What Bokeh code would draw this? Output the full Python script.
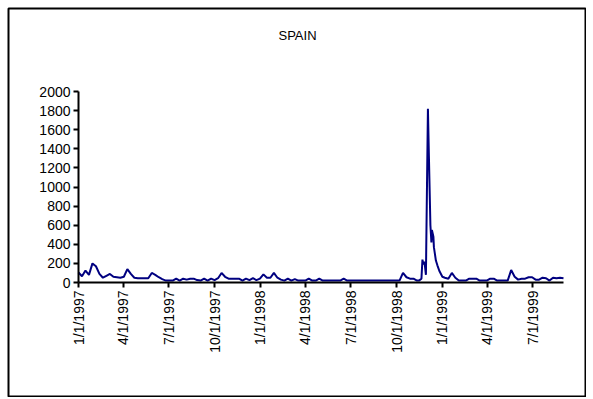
import math
import pandas as pd
from bokeh.plotting import figure
from bokeh.models import Range1d, FixedTicker, Label
from bokeh.embed import file_html
from bokeh.resources import INLINE

# ---- data ----
title_text = "SPAIN"

# weekly values from 1/1/1997 to mid-November 1998
pre_vals = [105, 65, 125, 80, 200, 170, 90, 50, 70, 90, 60, 55, 50,
            60, 140, 90, 50, 45, 45, 45, 45, 100, 80, 55, 35, 20,
            20, 20, 40, 20, 40, 30, 40, 40, 25, 20, 40, 20, 40,
            25, 45, 100, 60, 40, 40, 40, 40, 20, 40, 25, 45, 25,
            40, 85, 50, 50, 100, 50, 30, 20, 40, 20, 35, 20, 20,
            20, 40, 20, 20, 40, 20, 20, 20, 20, 20, 20, 40, 20,
            20, 20, 20, 20, 20, 20, 20, 20, 20, 20, 20, 20, 20,
            20, 20, 100, 55, 40, 40, 20]
pre_start = "1997-01-01"

# crisis period, finer sampling
spike_dates = ["1998-11-15", "1998-11-20", "1998-11-22", "1998-11-24", "1998-11-26",
               "1998-11-29", "1998-12-03", "1998-12-05", "1998-12-08", "1998-12-10",
               "1998-12-11", "1998-12-14", "1998-12-15", "1998-12-19", "1998-12-22",
               "1998-12-26", "1999-01-01"]
spike_vals = [20, 40, 240, 190, 220, 80, 1820, 1320, 600, 420, 550, 480, 370, 230, 180, 120, 60]

# weekly values from 1/6/1999 onward
post_vals = [50, 40, 100, 50, 20, 20, 20, 40, 40, 40, 20, 20, 20, 40, 40, 20, 20, 20, 20,
             130, 60, 30, 40, 40, 55, 55, 30, 30, 50, 45, 20, 50, 45, 50, 45]
post_start = "1999-01-06"

x_tick_labels = ["1/1/1997", "4/1/1997", "7/1/1997", "10/1/1997", "1/1/1998", "4/1/1998",
                 "7/1/1998", "10/1/1998", "1/1/1999", "4/1/1999", "7/1/1999"]
y_ticks = [0, 200, 400, 600, 800, 1000, 1200, 1400, 1600, 1800, 2000]
x_start, x_end = "1997-01-01", "1999-09-01"
y_min, y_max = 0, 2000

# ---- assemble series ----
dates = (list(pd.date_range(pre_start, periods=len(pre_vals), freq="7D"))
         + list(pd.to_datetime(spike_dates))
         + list(pd.date_range(post_start, periods=len(post_vals), freq="7D")))
vals = pre_vals + spike_vals + post_vals

# ---- layout geometry (window pixels) ----
FIG_L, FIG_T, W, H = 7, 7, 579, 390
FR_L, FR_R = FIG_L + 1, FIG_L + W - 1          # frame = bordered box
FR_T, FR_B = FIG_T + 1, FIG_T + H - 1
PL, PR, PT, PB = 78, 563, 91, 282               # data area inside the box
FONT = "Liberation Sans"

ms0 = pd.Timestamp(x_start).value // 10**6
ms1 = pd.Timestamp(x_end).value // 10**6
ms_px = (ms1 - ms0) / (PR - PL)
u_px = (y_max - y_min) / (PB - PT)
x_range = Range1d(ms0 - (PL - FR_L) * ms_px, ms1 + (FR_R - PR) * ms_px)
y_range = Range1d(y_min - (FR_B - PB) * u_px, y_max + (PT - FR_T) * u_px)

p = figure(width=W, height=H, x_axis_type="datetime",
           x_range=x_range, y_range=y_range,
           output_backend="svg", toolbar_location=None,
           min_border_left=1, min_border_right=1,
           min_border_top=1, min_border_bottom=1)
p.styles = {"margin-left": f"{FIG_L}px", "margin-top": f"{FIG_T}px"}
p.title.text = ""
p.title.visible = False
p.outline_line_color = "black"
p.outline_line_width = 2
p.grid.visible = False
p.background_fill_color = "white"
p.border_fill_color = "white"

p.line(dates, vals, line_color="#000080", line_width=2)

# title inside the bordered box
p.add_layout(Label(x=297 - FR_L, y=FR_B - 35, x_units="screen", y_units="screen",
                   text=title_text, text_align="center", text_baseline="middle",
                   text_font=FONT, text_font_size="13px", text_color="black"))

# x axis
tick_ts = [pd.to_datetime(t, format="%m/%d/%Y") for t in x_tick_labels]
tick_ms = [t.value // 10**6 for t in tick_ts]
p.xaxis.ticker = FixedTicker(ticks=tick_ms)
p.xaxis.major_label_overrides = {ms: lab for ms, lab in zip(tick_ms, x_tick_labels)}
p.xaxis.major_label_orientation = math.pi / 2
p.xaxis.fixed_location = y_min
p.xaxis.bounds = (ms0, ms1)

# y axis
p.yaxis.ticker = FixedTicker(ticks=y_ticks)
p.yaxis.fixed_location = ms0
p.yaxis.bounds = (y_min, y_max)

for ax in (p.xaxis, p.yaxis):
    ax.axis_line_color = "black"
    ax.axis_line_width = 2
    ax.major_tick_line_color = "black"
    ax.major_tick_line_width = 2
    ax.major_tick_out = 5
    ax.major_tick_in = 0
    ax.minor_tick_line_color = None
    ax.major_label_text_font = FONT
    ax.major_label_text_font_size = "14px"
    ax.major_label_text_color = "black"
    ax.major_label_standoff = 3

open("out.html", "w").write(file_html(p, INLINE))
